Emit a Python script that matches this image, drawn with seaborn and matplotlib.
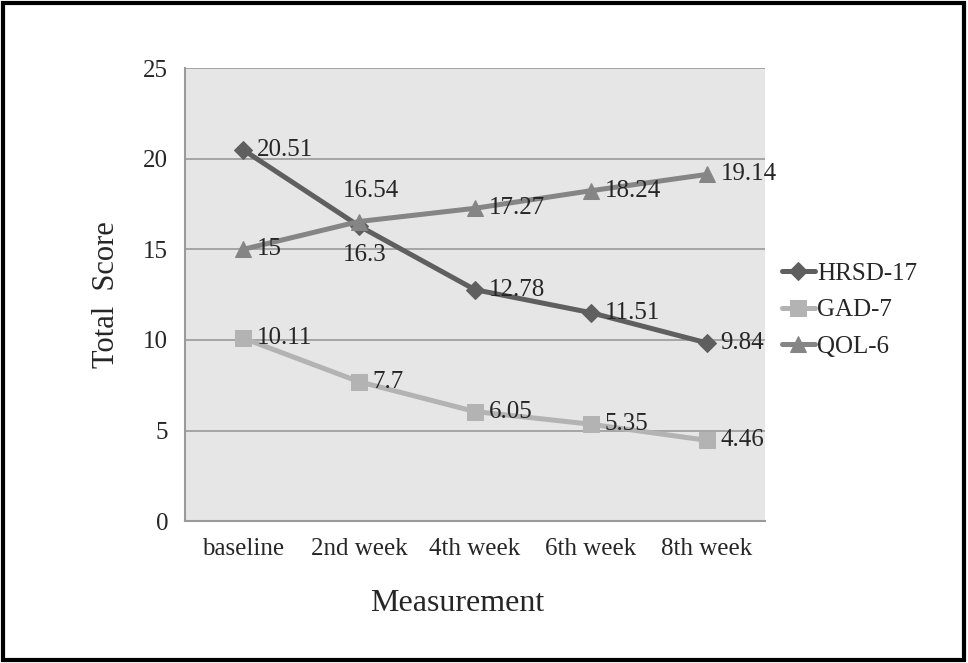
import pandas as pd
import matplotlib.pyplot as plt
import seaborn as sns

# data
weeks = ["baseline", "2nd week", "4th week", "6th week", "8th week"]
hrsd = [20.51, 16.3, 12.78, 11.51, 9.84]
gad = [10.11, 7.7, 6.05, 5.35, 4.46]
qol = [15, 16.54, 17.27, 18.24, 19.14]
series_names = ["HRSD-17", "GAD-7", "QOL-6"]

df = pd.DataFrame({
    "Measurement": weeks * 3,
    "Score": hrsd + gad + qol,
    "Scale": [n for n in series_names for _ in weeks],
})
df["pos"] = df["Measurement"].map({w: i for i, w in enumerate(weeks)})

sns.set_style("white")
plt.rcParams["font.family"] = ["Liberation Serif", "DejaVu Serif"]

colors = {"HRSD-17": "#5f5f5f", "GAD-7": "#b3b3b3", "QOL-6": "#858585"}
markers = {"HRSD-17": "D", "GAD-7": "s", "QOL-6": "^"}
msizes = {"HRSD-17": 9, "GAD-7": 11, "QOL-6": 12}

fig = plt.figure(figsize=(9.68, 6.63), dpi=100)
ax = fig.add_axes([0.191, 0.214, 0.599, 0.683])
ax.set_facecolor("#e6e6e6")

for name in series_names:
    sub = df[df["Scale"] == name]
    sns.lineplot(x="pos", y="Score", data=sub, ax=ax, color=colors[name],
                 marker=markers[name], markersize=msizes[name],
                 markeredgecolor=colors[name], linewidth=3.6,
                 label=name, zorder=3)

# value labels
for name, vals in zip(series_names, [hrsd, gad, qol]):
    for i, v in enumerate(vals):
        dx, dy, ha = 10, 0, "left"
        if name == "QOL-6" and i == 1:
            dx, dy, ha = 9, 22, "center"
        if name == "HRSD-17" and i == 1:
            dx, dy, ha = 4, -21, "center"
        ax.annotate(str(v), (i, v), xytext=(dx, dy), textcoords="offset points",
                    ha=ha, va="center", fontsize=18, zorder=4)

ax.set_xlim(-0.5, 4.5)
ax.set_ylim(0, 25)
ax.set_xticks(range(len(weeks)))
ax.set_xticklabels(weeks)
ax.set_yticks([0, 5, 10, 15, 20, 25])
ax.tick_params(axis="both", length=0, labelsize=18, pad=12)
ax.yaxis.grid(True, color="#9a9a9a", linewidth=1.2)
ax.set_axisbelow(True)
for s in ["top", "right"]:
    ax.spines[s].set_visible(False)
for s in ["left", "bottom"]:
    ax.spines[s].set_color("#9a9a9a")
    ax.spines[s].set_linewidth(1.5)

ax.set_xlabel("Measurement", fontsize=23, labelpad=18)
ax.xaxis.set_label_coords(0.47, -0.15)
ax.set_ylabel("Total  Score", fontsize=22, labelpad=16)

ax.legend(loc="center left", bbox_to_anchor=(1.0, 0.466), frameon=False,
          fontsize=18, handlelength=1.3, handletextpad=0.1, labelspacing=0.55,
          borderaxespad=0.3)

# black border around the whole figure
fig.patches.append(plt.Rectangle((0.003, 0.004), 0.993, 0.992, transform=fig.transFigure,
                                 fill=False, edgecolor="black", linewidth=3))

fig.savefig("out.png", dpi=100)
